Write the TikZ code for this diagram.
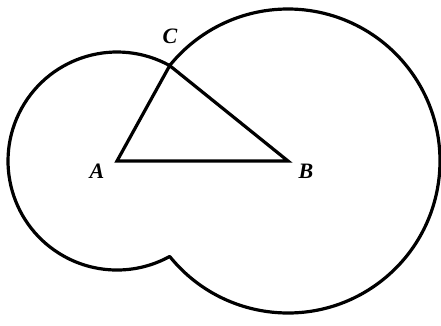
\documentclass[tikz,border=0pt]{standalone}
\usepackage{fontspec}
\setmainfont{Liberation Serif}
\tikzset{
  outline/.style={line width=3.2pt, line join=round, line cap=round},
  lbl/.style={font=\fontsize{22}{26}\selectfont\bfseries\itshape, inner sep=0pt}
}
\begin{document}
\begin{tikzpicture}[x=1pt,y=1pt]
\useasboundingbox (0,0) rectangle (441,325);
\coordinate (A) at (117,164);
\coordinate (B) at (288,164);
\coordinate (C) at (169.7,259.4);
\coordinate (D) at (169.7,68.6);
% outer boundary of the union of the two circles
\draw[outline] (C) arc[start angle=61.1, end angle=298.9, radius=109]
  arc[start angle=-141.1, end angle=141.1, radius=152] -- cycle;
% triangle
\draw[outline, line join=miter] (A) -- (B) -- (C) -- cycle;
\node[lbl] (la) at (97,154) {A};
\node[lbl] (lb) at (306,154) {B};
\node[lbl] (lc) at (170,289) {C};
\end{tikzpicture}
\end{document}
